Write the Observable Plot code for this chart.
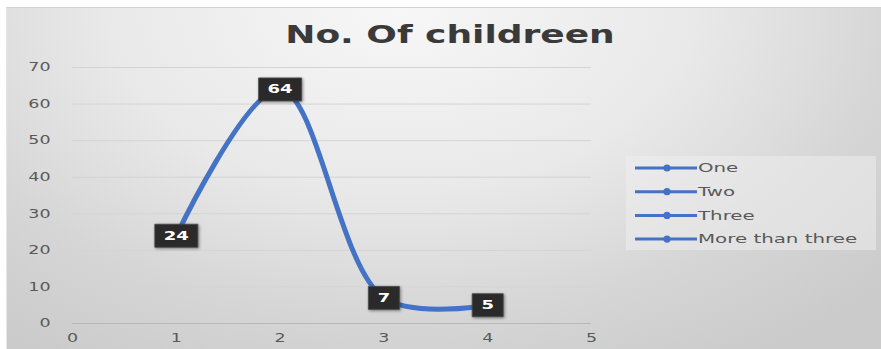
<!DOCTYPE html>
<html>
<head>
<meta charset="utf-8">
<script src="https://cdn.jsdelivr.net/npm/d3@7"></script>
<script src="https://cdn.jsdelivr.net/npm/@observablehq/plot@0.6"></script>
<style>
  html, body { margin: 0; padding: 0; background: #ffffff; }
  #chart {
    position: relative;
    width: 881px;
    height: 349px;
    overflow: hidden;
    font-family: "DejaVu Sans", sans-serif;
  }
  #bg {
    position: absolute;
    left: 6px; top: 7px; right: 0; bottom: 0;
    border-top: 1px solid #d2d2d2;
    border-left: 1px solid #e6e6e6;
    background: radial-gradient(ellipse 75% 120% at 45% 0%, #f7f7f7 0%, #e9e9e9 45%, #d6d6d6 75%, #cbcbcb 100%);
  }
  #plot, #overlay { position: absolute; left: 0; top: 0; }
  #plot g[aria-label="dot"] path { filter: drop-shadow(1px 1.5px 1.5px rgba(0,0,0,0.45)); }
</style>
</head>
<body>
<div id="chart">
  <div id="bg"></div>
  <div id="plot"></div>
  <svg id="overlay" width="881" height="349"></svg>
</div>
<script>
// Number of children per category
const categories = ["One", "Two", "Three", "More than three"];
const xValues = [1, 2, 3, 4];
const counts = [24, 64, 7, 5];
const xTicks = [0, 1, 2, 3, 4, 5];
const yTicks = [0, 10, 20, 30, 40, 50, 60, 70];
const titleText = "No. Of childreen";
const lineColor = "#4472c4";

const data = categories.map((c, i) => ({category: c, x: xValues[i], y: counts[i], label: String(counts[i])}));

// Wide lettering: stretch a text element horizontally by factor k
function widen(el, k) {
  const w = el.getComputedTextLength();
  if (w > 0) {
    el.setAttribute("textLength", (w * k).toFixed(1));
    el.setAttribute("lengthAdjust", "spacingAndGlyphs");
  }
}

// Label boxes sized by the number of digits they hold
const box = (w, h) => ({draw(ctx) { ctx.rect(-w / 2, -h / 2, w, h); }});
const wideBox = box(43, 23);
const narrowBox = box(31, 23);

const chart = Plot.plot({
  width: 881,
  height: 349,
  marginLeft: 72,
  marginRight: 290,
  marginTop: 67,
  marginBottom: 26,
  style: {background: "transparent", fontFamily: "DejaVu Sans, sans-serif", fontSize: "12px", color: "#595959", overflow: "visible"},
  x: {domain: [0, 5], ticks: xTicks, tickFormat: "d", tickSize: 0, tickPadding: 10, label: null},
  y: {domain: [0, 70], ticks: yTicks, tickFormat: "d", tickSize: 0, tickPadding: 22, label: null},
  marks: [
    Plot.ruleY(yTicks.filter(d => d > 0), {stroke: "#d4d4d4", strokeWidth: 1}),
    Plot.ruleY([0], {stroke: "#b8b8b8", strokeWidth: 1}),
    Plot.line(data, {x: "x", y: "y", curve: "catmull-rom", stroke: lineColor, strokeWidth: 5}),
    Plot.dot(data.filter(d => d.label.length > 1), {x: "x", y: "y", symbol: wideBox, r: 10, fill: "#2a2a2a", stroke: "#4a4a4a", strokeWidth: 0.8}),
    Plot.dot(data.filter(d => d.label.length === 1), {x: "x", y: "y", symbol: narrowBox, r: 10, fill: "#2a2a2a", stroke: "#4a4a4a", strokeWidth: 0.8}),
    Plot.text(data, {x: "x", y: "y", text: "label", fill: "#ffffff", fontWeight: "bold", fontSize: 12, fontFamily: "DejaVu Sans, sans-serif"})
  ]
});
document.getElementById("plot").appendChild(chart);
chart.querySelectorAll('g[aria-label="y-axis tick label"] text, g[aria-label="x-axis tick label"] text').forEach(t => widen(t, 1.45));
chart.querySelectorAll('g[aria-label="text"] text').forEach(t => widen(t, 1.5));

// Title and legend
const overlay = d3.select("#overlay");
const title = overlay.append("text")
  .attr("x", 450).attr("y", 43)
  .attr("text-anchor", "middle")
  .attr("font-family", "DejaVu Sans, sans-serif")
  .attr("font-weight", "bold")
  .attr("font-size", 25)
  .attr("fill", "#3a3a3a")
  .text(titleText);
widen(title.node(), 1.44);

const legend = overlay.append("g").attr("transform", "translate(626,156)");
legend.append("rect").attr("width", 250).attr("height", 94).attr("fill", "#f0f0f0").attr("fill-opacity", 0.5);
categories.forEach((c, i) => {
  const row = legend.append("g").attr("transform", `translate(9,${12 + i * 23.7})`);
  row.append("line").attr("x1", 0).attr("x2", 62).attr("stroke", lineColor).attr("stroke-width", 3);
  row.append("circle").attr("cx", 32).attr("r", 3.6).attr("fill", lineColor);
  const t = row.append("text")
    .attr("x", 63).attr("dy", "0.36em")
    .attr("font-family", "DejaVu Sans, sans-serif")
    .attr("font-size", 12)
    .attr("fill", "#595959")
    .text(c);
  widen(t.node(), 1.65);
});
</script>
</body>
</html>
